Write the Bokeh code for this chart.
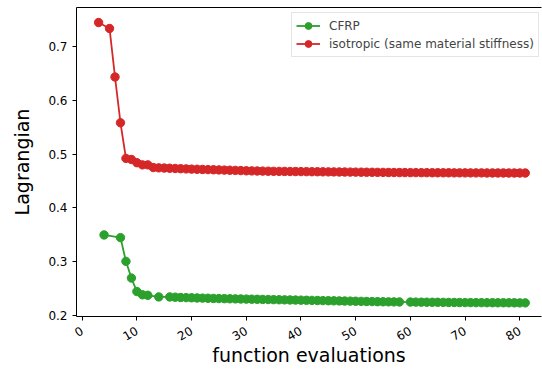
import math
from bokeh.plotting import figure
from bokeh.models import Range1d, LinearAxis, FixedTicker, Legend, LegendItem
from bokeh.embed import file_html
from bokeh.resources import INLINE

# ---- data ----
cfrp_x = [4, 7, 8, 9, 10, 11, 12, 14,
          16, 17, 18, 19, 20, 21, 22, 23, 24, 25,
          26, 27, 28, 29, 30, 31, 32, 33, 34, 35,
          36, 37, 38, 39, 40, 41, 42, 43, 44, 45,
          46, 47, 48, 49, 50, 51, 52, 53, 54, 55,
          56, 57, 58,
          60, 61, 62, 63, 64, 65, 66, 67, 68, 69,
          70, 71, 72, 73, 74, 75, 76, 77, 78, 79,
          80, 81]
cfrp_y = [0.350, 0.345, 0.301, 0.270, 0.245, 0.239, 0.238, 0.235,
          0.2350, 0.2345, 0.2340, 0.2337, 0.2334, 0.2331, 0.2328, 0.2325, 0.2322, 0.2320,
          0.2318, 0.2316, 0.2314, 0.2312, 0.2310, 0.2308, 0.2306, 0.2304, 0.2302, 0.2300,
          0.2298, 0.2296, 0.2294, 0.2292, 0.2290, 0.2288, 0.2286, 0.2284, 0.2282, 0.2280,
          0.2278, 0.2276, 0.2274, 0.2272, 0.2270, 0.2268, 0.2266, 0.2264, 0.2262, 0.2260,
          0.2259, 0.2258, 0.2257,
          0.2255, 0.2254, 0.2253, 0.2252, 0.2251, 0.2250, 0.2249, 0.2248, 0.2247, 0.2246,
          0.2245, 0.2245, 0.2244, 0.2244, 0.2243, 0.2243, 0.2242, 0.2242, 0.2241, 0.2241,
          0.2240, 0.2240]

iso_x = [3, 5, 6, 7, 8, 9, 10, 11, 12, 13,
         14, 15, 16, 17, 18, 19, 20, 21, 22, 23,
         24, 25, 26, 27, 28, 29,
         30, 31, 32, 33, 34, 35, 36, 37, 38, 39,
         40, 41, 42, 43, 44, 45, 46, 47, 48, 49,
         50, 51, 52, 53, 54, 55, 56, 57, 58, 59,
         60, 61, 62, 63, 64, 65, 66, 67, 68, 69,
         70, 71, 72, 73, 74, 75, 76, 77, 78, 79,
         80, 81]
iso_y = [0.744, 0.733, 0.643, 0.558, 0.492, 0.490, 0.484, 0.480, 0.480, 0.475,
         0.4745, 0.4741, 0.4737, 0.4733, 0.4729, 0.4725, 0.4721, 0.4718, 0.4715, 0.4712,
         0.4709, 0.4706, 0.4703, 0.4700, 0.4697, 0.4694,
         0.4690, 0.4688, 0.4686, 0.4684, 0.4682, 0.4680, 0.4679, 0.4678, 0.4677, 0.4676,
         0.4675, 0.4674, 0.4673, 0.4672, 0.4671, 0.4670, 0.4669, 0.4668, 0.4667, 0.4666,
         0.4665, 0.4664, 0.4663, 0.4662, 0.4661, 0.4660, 0.4659, 0.4658, 0.4657, 0.4657,
         0.4656, 0.4656, 0.4655, 0.4655, 0.4654, 0.4654, 0.4653, 0.4653, 0.4652, 0.4652,
         0.4652, 0.4651, 0.4651, 0.4651, 0.4650, 0.4650, 0.4650, 0.4650, 0.4649, 0.4649,
         0.4649, 0.4649]

series_labels = ["CFRP", "isotropic (same material stiffness)"]
x_ticks = [0, 10, 20, 30, 40, 50, 60, 70, 80]
y_ticks = [0.2, 0.3, 0.4, 0.5, 0.6, 0.7]
x_label = "function evaluations"
y_label = "Lagrangian"

GREEN = "#2ca02c"
RED = "#d62728"
FONT = "DejaVu Sans"

p = figure(width=542, height=370, output_backend="svg", toolbar_location=None,
           x_range=Range1d(-1.04, 83.97), y_range=Range1d(0.1987, 0.7719),
           min_border_left=76, min_border_right=1, min_border_top=7, min_border_bottom=54)
p.outline_line_color = None
p.grid.visible = False
p.background_fill_color = "white"
p.border_fill_color = "white"

g_line = p.line(cfrp_x, cfrp_y, line_color=GREEN, line_width=1.8)
g_pts = p.scatter(cfrp_x, cfrp_y, size=8.4, fill_color=GREEN, line_color=GREEN)
r_line = p.line(iso_x, iso_y, line_color=RED, line_width=1.8)
r_pts = p.scatter(iso_x, iso_y, size=8.4, fill_color=RED, line_color=RED)

for ax in (p.xaxis[0], p.yaxis[0]):
    ax.axis_line_color = "black"
    ax.axis_line_width = 1
    ax.major_tick_line_color = "black"
    ax.major_tick_out = 4
    ax.major_tick_in = 0
    ax.minor_tick_line_color = None
    ax.major_label_text_font = FONT
    ax.major_label_text_font_size = "12px"
    ax.major_label_text_color = "black"
    ax.axis_label_text_font = FONT
    ax.axis_label_text_font_size = "19px"
    ax.axis_label_text_font_style = "normal"
    ax.axis_label_text_color = "black"

p.xaxis[0].ticker = FixedTicker(ticks=x_ticks)
p.yaxis[0].ticker = FixedTicker(ticks=y_ticks)
p.xaxis[0].axis_label = x_label
p.yaxis[0].axis_label = y_label
p.xaxis[0].major_label_orientation = math.pi / 6
p.xaxis[0].major_label_standoff = 9
p.xaxis[0].axis_label_standoff = -4
p.yaxis[0].major_label_standoff = 5
p.yaxis[0].axis_label_standoff = 12

top = LinearAxis(ticker=FixedTicker(ticks=[]), major_label_text_font_size="0px",
                 major_tick_out=0, major_tick_in=0, major_label_standoff=0,
                 axis_label_standoff=0, major_tick_line_color=None,
                 minor_tick_line_color=None, axis_line_color="black", axis_line_width=1)
p.add_layout(top, "above")

legend = Legend(items=[LegendItem(label=series_labels[0], renderers=[g_line, g_pts]),
                       LegendItem(label=series_labels[1], renderers=[r_line, r_pts])],
                location=(215, 259), margin=0, padding=4, spacing=1,
                glyph_width=24, glyph_height=17, label_height=17, label_standoff=9,
                label_text_font=FONT, label_text_font_size="12px",
                border_line_color="#cccccc", border_line_width=1,
                background_fill_color="white", background_fill_alpha=0.8)
p.add_layout(legend)

open("out.html", "w").write(file_html(p, INLINE))
